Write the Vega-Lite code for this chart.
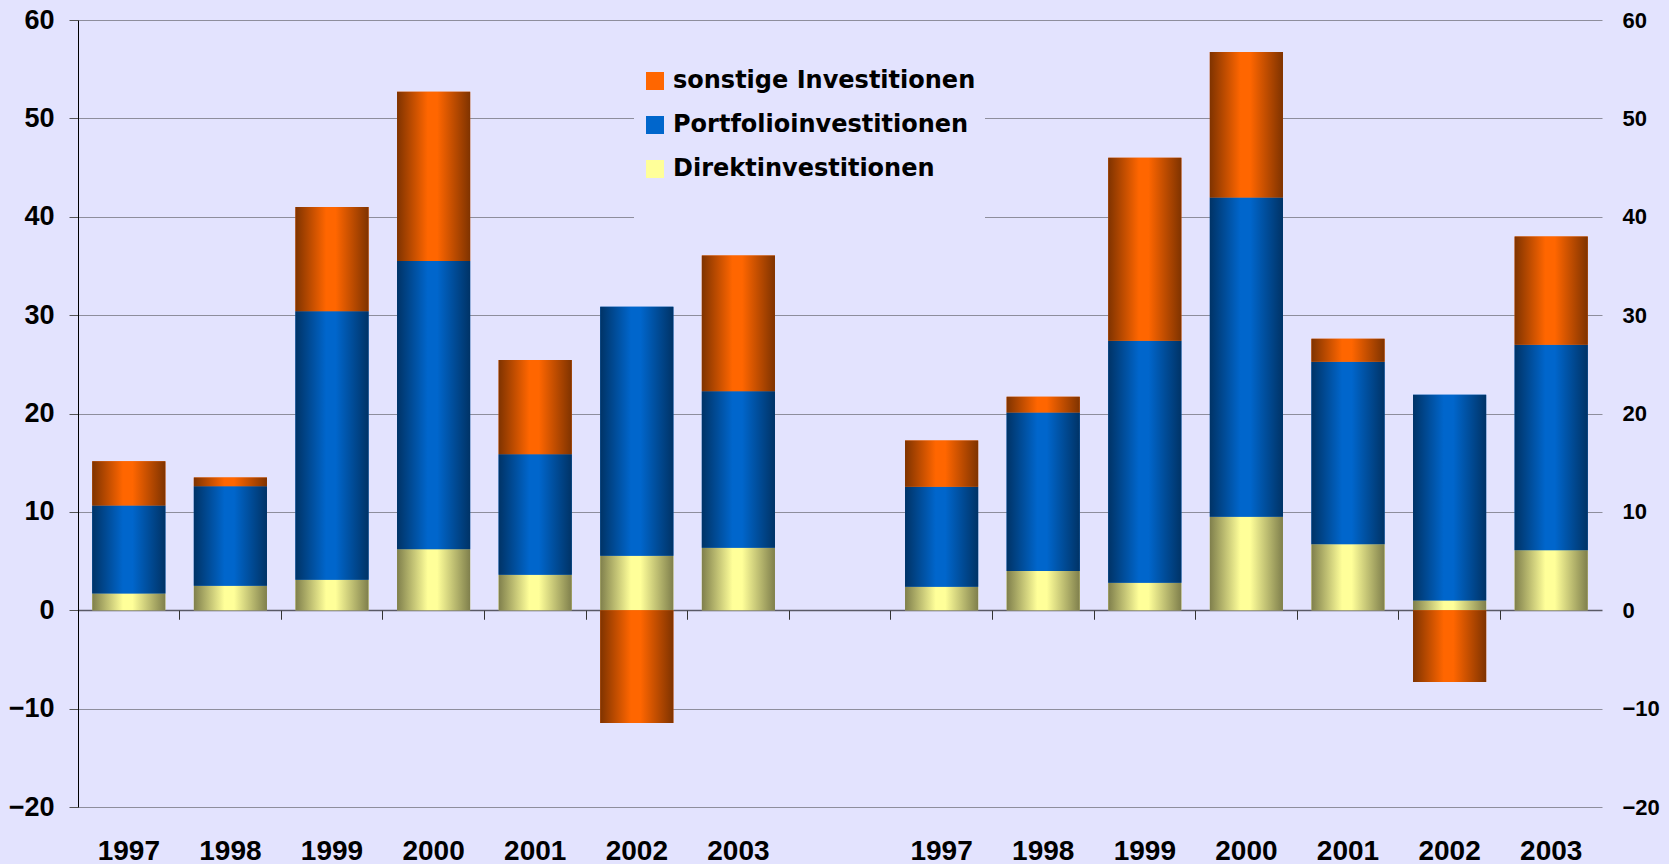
{
  "$schema": "https://vega.github.io/schema/vega-lite/v6.json",
  "width": 1524,
  "height": 787,
  "autosize": {"type": "none"},
  "padding": {"left": 78, "top": 20, "right": 67, "bottom": 57},
  "background": "#E3E3FE",
  "config": {
    "view": {"stroke": null},
    "axis": {"labelFont": "Liberation Sans", "labelFontWeight": "bold", "labelColor": "#000000"}
  },
  "data": {
    "values": [
      {"slot": "a1997", "series": "Direktinvestitionen", "ord": 1, "value": 1.7},
      {"slot": "a1997", "series": "Portfolioinvestitionen", "ord": 2, "value": 8.95},
      {"slot": "a1997", "series": "sonstige Investitionen", "ord": 3, "value": 4.5},
      {"slot": "a1998", "series": "Direktinvestitionen", "ord": 1, "value": 2.5},
      {"slot": "a1998", "series": "Portfolioinvestitionen", "ord": 2, "value": 10.1},
      {"slot": "a1998", "series": "sonstige Investitionen", "ord": 3, "value": 0.9},
      {"slot": "a1999", "series": "Direktinvestitionen", "ord": 1, "value": 3.1},
      {"slot": "a1999", "series": "Portfolioinvestitionen", "ord": 2, "value": 27.3},
      {"slot": "a1999", "series": "sonstige Investitionen", "ord": 3, "value": 10.6},
      {"slot": "a2000", "series": "Direktinvestitionen", "ord": 1, "value": 6.2},
      {"slot": "a2000", "series": "Portfolioinvestitionen", "ord": 2, "value": 29.3},
      {"slot": "a2000", "series": "sonstige Investitionen", "ord": 3, "value": 17.2},
      {"slot": "a2001", "series": "Direktinvestitionen", "ord": 1, "value": 3.6},
      {"slot": "a2001", "series": "Portfolioinvestitionen", "ord": 2, "value": 12.25},
      {"slot": "a2001", "series": "sonstige Investitionen", "ord": 3, "value": 9.6},
      {"slot": "a2002", "series": "Direktinvestitionen", "ord": 1, "value": 5.55},
      {"slot": "a2002", "series": "Portfolioinvestitionen", "ord": 2, "value": 25.3},
      {"slot": "a2002", "series": "sonstige Investitionen", "ord": 3, "value": -11.45},
      {"slot": "a2003", "series": "Direktinvestitionen", "ord": 1, "value": 6.35},
      {"slot": "a2003", "series": "Portfolioinvestitionen", "ord": 2, "value": 15.9},
      {"slot": "a2003", "series": "sonstige Investitionen", "ord": 3, "value": 13.8},
      {"slot": "b1997", "series": "Direktinvestitionen", "ord": 1, "value": 2.4},
      {"slot": "b1997", "series": "Portfolioinvestitionen", "ord": 2, "value": 10.15},
      {"slot": "b1997", "series": "sonstige Investitionen", "ord": 3, "value": 4.7},
      {"slot": "b1998", "series": "Direktinvestitionen", "ord": 1, "value": 4.0},
      {"slot": "b1998", "series": "Portfolioinvestitionen", "ord": 2, "value": 16.1},
      {"slot": "b1998", "series": "sonstige Investitionen", "ord": 3, "value": 1.6},
      {"slot": "b1999", "series": "Direktinvestitionen", "ord": 1, "value": 2.8},
      {"slot": "b1999", "series": "Portfolioinvestitionen", "ord": 2, "value": 24.6},
      {"slot": "b1999", "series": "sonstige Investitionen", "ord": 3, "value": 18.6},
      {"slot": "b2000", "series": "Direktinvestitionen", "ord": 1, "value": 9.5},
      {"slot": "b2000", "series": "Portfolioinvestitionen", "ord": 2, "value": 32.45},
      {"slot": "b2000", "series": "sonstige Investitionen", "ord": 3, "value": 14.8},
      {"slot": "b2001", "series": "Direktinvestitionen", "ord": 1, "value": 6.7},
      {"slot": "b2001", "series": "Portfolioinvestitionen", "ord": 2, "value": 18.55},
      {"slot": "b2001", "series": "sonstige Investitionen", "ord": 3, "value": 2.35},
      {"slot": "b2002", "series": "Direktinvestitionen", "ord": 1, "value": 1.0},
      {"slot": "b2002", "series": "Portfolioinvestitionen", "ord": 2, "value": 20.9},
      {"slot": "b2002", "series": "sonstige Investitionen", "ord": 3, "value": -7.3},
      {"slot": "b2003", "series": "Direktinvestitionen", "ord": 1, "value": 6.1},
      {"slot": "b2003", "series": "Portfolioinvestitionen", "ord": 2, "value": 20.9},
      {"slot": "b2003", "series": "sonstige Investitionen", "ord": 3, "value": 11.0}
    ]
  },
  "transform": [
    {"stack": "value", "groupby": ["slot"], "sort": [{"field": "ord", "order": "ascending"}], "as": ["v0", "v1"], "offset": "zero"}
  ],
  "encoding": {
    "x": {
      "field": "slot",
      "type": "nominal",
      "sort": null,
      "scale": {
        "domain": ["a1997", "a1998", "a1999", "a2000", "a2001", "a2002", "a2003", "g", "b1997", "b1998", "b1999", "b2000", "b2001", "b2002", "b2003"],
        "paddingInner": 0.28,
        "paddingOuter": 0.14
      },
      "axis": {
        "title": null,
        "orient": "bottom",
        "offset": -196.75,
        "domain": false,
        "ticks": true,
        "bandPosition": -0.19444,
        "tickSize": 9,
        "tickColor": "#333333",
        "tickWidth": 1,
        "labelAngle": 0,
        "labelFontSize": 28,
        "labelPadding": 218,
        "labelBaseline": "top",
        "labelExpr": "isString(datum.value) && datum.value != 'g' ? substring(datum.value, 1) : ''",
        "grid": false
      }
    },
    "y": {"field": "v1", "type": "quantitative"},
    "y2": {"field": "v0"}
  },
  "layer": [
    {
      "mark": {"type": "bar"},
      "encoding": {
        "y": {
          "field": "v1",
          "type": "quantitative",
          "scale": {"domain": [-20, 60], "nice": false, "zero": false},
          "axis": {
            "title": null,
            "orient": "left",
            "values": [-20, -10, 0, 10, 20, 30, 40, 50, 60],
            "labelFontSize": 27,
            "labelPadding": 15,
            "tickSize": 9,
            "tickColor": "#555555",
            "domain": true,
            "domainColor": "#000000",
            "domainWidth": 1,
            "grid": true,
            "gridColor": {"condition": {"test": "datum.value === 0", "value": "#5a5a66"}, "value": "#8e8e9c"},
            "gridWidth": {"condition": {"test": "datum.value === 0", "value": 1.6}, "value": 1}
          }
        },
        "color": {
          "field": "series",
          "type": "nominal",
          "scale": {
            "domain": ["sonstige Investitionen", "Portfolioinvestitionen", "Direktinvestitionen"],
            "range": ["#FF6600", "#0066CC", "#FFFF99"]
          },
          "legend": {
            "orient": "none",
            "legendX": 556,
            "legendY": 40,
            "direction": "vertical",
            "fillColor": "#E3E3FE",
            "padding": 9,
            "title": " ",
            "titleOrient": "bottom",
            "titleFontSize": 24,
            "titlePadding": 8,
            "symbolType": "square",
            "symbolSize": 324,
            "symbolStrokeWidth": 0,
            "symbolOpacity": 1,
            "labelFont": "DejaVu Sans",
            "labelFontWeight": "bold",
            "labelFontSize": 24,
            "labelColor": "#000000",
            "labelOffset": 6,
            "rowPadding": 20,
            "labelLimit": 500
          }
        }
      }
    },
    {
      "transform": [{"filter": "datum.series === 'Direktinvestitionen'"}],
      "mark": {
        "type": "bar",
        "color": {
          "gradient": "linear", "x1": 0, "y1": 0, "x2": 1, "y2": 0,
          "stops": [
            {"offset": 0, "color": "#7F7F4C"},
            {"offset": 0.42, "color": "#FFFF99"},
            {"offset": 0.55, "color": "#FFFF99"},
            {"offset": 1, "color": "#7F7F4C"}
          ]
        }
      },
      "encoding": {"y": {"field": "v1", "type": "quantitative", "axis": null}}
    },
    {
      "transform": [{"filter": "datum.series === 'Portfolioinvestitionen'"}],
      "mark": {
        "type": "bar",
        "color": {
          "gradient": "linear", "x1": 0, "y1": 0, "x2": 1, "y2": 0,
          "stops": [
            {"offset": 0, "color": "#003366"},
            {"offset": 0.42, "color": "#0066CC"},
            {"offset": 0.55, "color": "#0066CC"},
            {"offset": 1, "color": "#003366"}
          ]
        }
      },
      "encoding": {"y": {"field": "v1", "type": "quantitative", "axis": null}}
    },
    {
      "transform": [{"filter": "datum.series === 'sonstige Investitionen'"}],
      "mark": {
        "type": "bar",
        "color": {
          "gradient": "linear", "x1": 0, "y1": 0, "x2": 1, "y2": 0,
          "stops": [
            {"offset": 0, "color": "#7F3300"},
            {"offset": 0.42, "color": "#FF6600"},
            {"offset": 0.55, "color": "#FF6600"},
            {"offset": 1, "color": "#7F3300"}
          ]
        }
      },
      "encoding": {
        "y": {
          "field": "v1",
          "type": "quantitative",
          "axis": {
            "title": null,
            "orient": "right",
            "values": [-20, -10, 0, 10, 20, 30, 40, 50, 60],
            "labelFontSize": 22,
            "labelPadding": 20,
            "ticks": false,
            "tickSize": 0,
            "domain": false,
            "grid": false
          }
        }
      }
    }
  ],
  "resolve": {"axis": {"y": "independent"}}
}
